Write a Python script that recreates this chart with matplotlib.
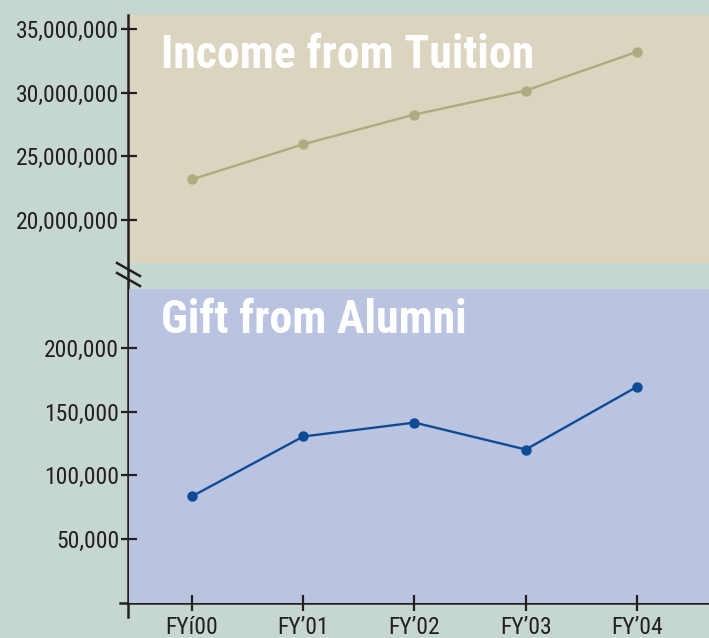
import matplotlib.pyplot as plt
from matplotlib.lines import Line2D

# data
years = ['FYí00', 'FY’01', 'FY’02', 'FY’03', 'FY’04']
tuition = [23200000, 25950000, 28280000, 30160000, 33200000]
alumni = [83600, 130500, 141400, 120300, 169500]
tuition_ticks = [20000000, 25000000, 30000000, 35000000]
alumni_ticks = [50000, 100000, 150000, 200000]

W, H = 709, 638
plt.rcParams['font.family'] = ['Roboto Condensed', 'DejaVu Sans']

bg = '#c6d7d1'
fig = plt.figure(figsize=(W / 100, H / 100), dpi=100, facecolor=bg)


def box(x0, y0, x1, y1):
    # pixel box (top-left origin) -> figure fraction
    return [x0 / W, 1 - y1 / H, (x1 - x0) / W, (y1 - y0) / H]


def fx(x):
    return x / W


def fy(y):
    return 1 - y / H


xs = list(range(len(years)))
xlim = (-0.566, 4.647)

ax1 = fig.add_axes(box(129, 15, 709, 263), facecolor='#dbd4bf')
ax2 = fig.add_axes(box(129, 289, 709, 603), facecolor='#bac3e0')

ax1.plot(xs, tuition, color='#b0aa80', lw=1.7, marker='o', ms=6.5, zorder=3)
ax1.set_ylim(16640000, 36090000)
ax1.set_yticks(tuition_ticks)
ax1.set_yticklabels([f'{v:,}' for v in tuition_ticks])

ax2.plot(xs, alumni, color='#0e4b97', lw=1.7, marker='o', ms=6.5, zorder=3)
ax2.set_ylim(0, 246100)
ax2.set_yticks(alumni_ticks)
ax2.set_yticklabels([f'{v:,}' for v in alumni_ticks])

for ax in (ax1, ax2):
    ax.set_xlim(*xlim)
    for s in ax.spines.values():
        s.set_visible(False)
    ax.tick_params(axis='y', direction='inout', length=12, width=1.6, color='#231f20',
                   labelsize=17, labelcolor='#231f20', pad=1)

ax1.tick_params(axis='x', bottom=False, labelbottom=False)
ax2.set_xticks(xs)
ax2.set_xticklabels(years)
ax2.tick_params(axis='x', direction='inout', length=11, width=1.6, color='#231f20',
                labelsize=17, labelcolor='#231f20', pad=4)
ax2.set_zorder(2)

ax1.text(0.055, 0.84, 'Income from Tuition', transform=ax1.transAxes, color='white',
         fontsize=33, fontweight='bold', va='center', ha='left')
ax2.text(0.055, 0.9, 'Gift from Alumni', transform=ax2.transAxes, color='white',
         fontsize=33, fontweight='bold', va='center', ha='left')

# axis lines and break marks
axc = '#231f20'
fig.add_artist(Line2D([fx(127.5), fx(127.5)], [fy(15), fy(617)], color=axc, lw=1.8))
fig.add_artist(Line2D([fx(120), fx(709)], [fy(603), fy(603)], color=axc, lw=1.8))
for dy in (0, 10):
    fig.add_artist(Line2D([fx(117), fx(140)], [fy(263 + dy), fy(276 + dy)], color=axc, lw=1.8))

fig.savefig('out.png', dpi=100, facecolor=bg)
